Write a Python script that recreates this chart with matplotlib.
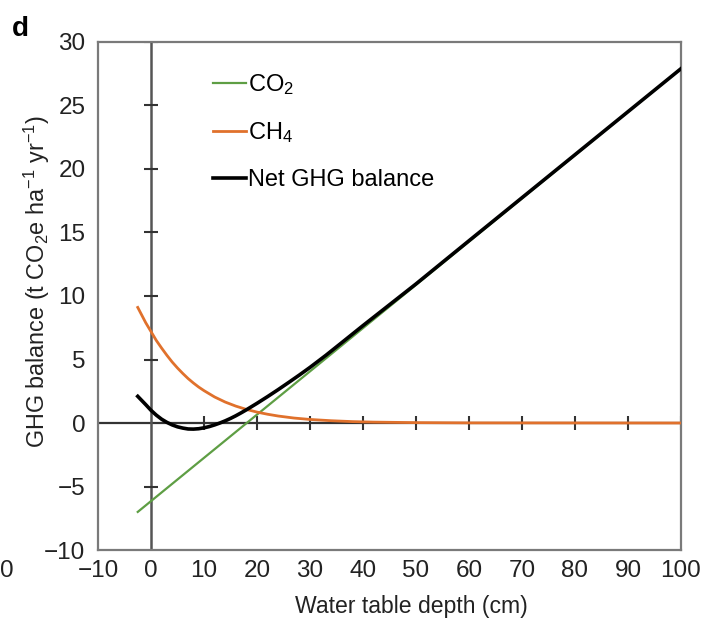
import matplotlib
matplotlib.use('Agg')
import matplotlib.pyplot as plt

plt.rcParams['font.family'] = ['Liberation Sans', 'DejaVu Sans']
plt.rcParams['mathtext.default'] = 'regular'

# values
co2_x = [-2.5, 100]
co2_y = [-7.0, 27.9]

ch4_x = [-2.5, -2, -1, 0, 1, 2, 3, 4, 5, 6, 7, 8, 9, 10, 12, 14, 16, 18, 20, 22, 24, 27,
         30, 34, 38, 42, 50, 60, 100]
ch4_y = [9.1, 8.7, 7.9, 7.2, 6.5, 5.9, 5.33, 4.8, 4.33, 3.9, 3.5, 3.15, 2.83, 2.55, 2.05,
         1.65, 1.33, 1.07, 0.86, 0.69, 0.55, 0.39, 0.28, 0.18, 0.11, 0.07, 0.03, 0.01, 0.0]

net_x = [-2.5, -1, 0, 1, 2, 3, 4, 5, 6, 7, 8, 9, 10, 11, 12, 13, 14, 15, 16, 17, 18, 20,
         22, 24, 26, 28, 30, 33, 36, 40, 50, 60, 100]
net_y = [2.1, 1.45, 1.0, 0.62, 0.3, 0.05, -0.15, -0.3, -0.4, -0.47, -0.48, -0.45, -0.38,
         -0.28, -0.15, 0.0, 0.17, 0.36, 0.57, 0.8, 1.04, 1.55, 2.08, 2.63, 3.2, 3.78, 4.38,
         5.33, 6.33, 7.67, 10.95, 14.35, 27.9]

xticks = [-10, 0, 10, 20, 30, 40, 50, 60, 70, 80, 90, 100]
yticks = [-10, -5, 0, 5, 10, 15, 20, 25, 30]

green = '#5e9e44'
orange = '#e0712c'
frame = '#7a7a7a'
txt = '#222222'

fig = plt.figure(figsize=(7.03, 6.21), dpi=100)
ax = fig.add_axes([0.1394, 0.1143, 0.8293, 0.8181])

ax.set_xlim(-10, 100)
ax.set_ylim(-10, 30)

# zero lines with crossing ticks
ax.axhline(0, color='#333333', lw=1.6, zorder=1)
ax.axvline(0, color='#555555', lw=1.8, zorder=1)
xt_in = [t for t in xticks if t > 0]
yt_in = [t for t in yticks if t != 0 and t > -10]
ax.plot(xt_in, [0] * len(xt_in), ls='none', marker='|', ms=10, mew=1.5, color='#333333', zorder=1)
ax.plot([0] * len(yt_in), yt_in, ls='none', marker='_', ms=10, mew=1.5, color='#333333', zorder=1)

ax.plot(co2_x, co2_y, color=green, lw=1.6, label='CO$_2$', zorder=2)
ax.plot(ch4_x, ch4_y, color=orange, lw=2.0, label='CH$_4$', zorder=3)
ax.plot(net_x, net_y, color='black', lw=2.6, label='Net GHG balance', zorder=4,
        solid_joinstyle='round')

ax.set_xticks(xticks)
ax.set_yticks(yticks)
ax.tick_params(length=0, labelsize=17.5, labelcolor=txt)
ax.tick_params(axis='y', pad=9)
ax.tick_params(axis='x', pad=7)
for s in ax.spines.values():
    s.set_color(frame)
    s.set_linewidth(1.6)

ax.set_xlabel('Water table depth (cm)', fontsize=16.6, color=txt)
ax.set_ylabel('GHG balance (t CO$_2$e ha$^{-1}$ yr$^{-1}$)', fontsize=16.8, color=txt)
ax.xaxis.set_label_coords(0.537, -0.088)
ax.yaxis.set_label_coords(-0.079, 0.528)

leg = ax.legend(loc='upper left', bbox_to_anchor=(0.16, 0.983), frameon=False,
                fontsize=17, handlelength=1.4, handletextpad=0.1, labelspacing=1.0)

fig.text(0.017, 0.975, 'd', fontsize=20, fontweight='bold', va='top', ha='left')
fig.text(0.0, 0.08, '0', fontsize=17.5, color=txt, va='center', ha='left')

fig.savefig('out.png', dpi=100)
